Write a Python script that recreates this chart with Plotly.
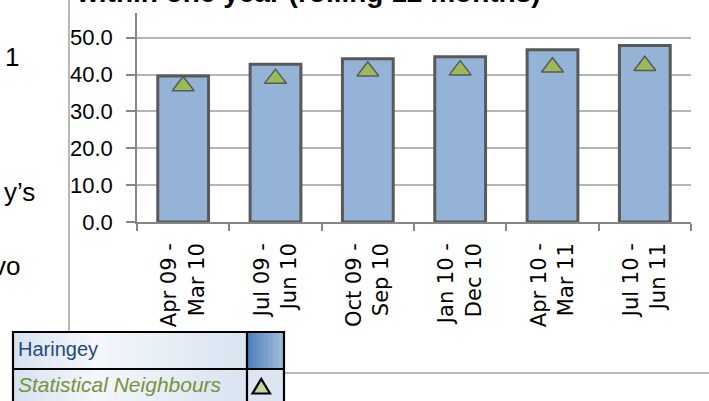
import plotly.graph_objects as go

# ---- data ----
periods = ["Apr 09 -<br>Mar 10", "Jul 09 -<br>Jun 10", "Oct 09 -<br>Sep 10",
           "Jan 10 -<br>Dec 10", "Apr 10 -<br>Mar 11", "Jul 10 -<br>Jun 11"]
haringey = [39.6, 42.8, 44.3, 44.8, 46.7, 47.9]
stat_neighbours = [36.9, 38.9, 40.9, 41.2, 42.0, 42.4]
y_ticks = [0, 10, 20, 30, 40, 50]
y_tick_labels = ["0.0", "10.0", "20.0", "30.0", "40.0", "50.0"]

W, H = 709, 401
L, R, T, B = 137, 18, 13, 179
PW = W - L - R
PH = H - T - B


def px(xp):
    return (xp - L) / PW


def py(yp):
    return 1 - (yp - T) / PH


fig = go.Figure()
fig.add_trace(go.Bar(
    x=periods, y=haringey, name="Haringey", width=0.55,
    marker=dict(color="#95B3D7", line=dict(color="#595959", width=3)),
))
fig.add_trace(go.Scatter(
    x=periods, y=stat_neighbours, name="Statistical Neighbours", mode="markers",
    marker=dict(symbol="triangle-up", size=19, color="#9BBB59",
                line=dict(color="#595959", width=1.5)),
))

shapes = []
# document lines
shapes.append(dict(type="line", xref="paper", yref="paper", x0=px(69), x1=px(69),
                   y0=py(-2), y1=py(335), line=dict(color="#A0A0A0", width=1.5)))
shapes.append(dict(type="line", xref="paper", yref="paper", x0=px(284), x1=px(712),
                   y0=py(373), y1=py(373), line=dict(color="#A0A0A0", width=1.5)))


def hexmix(c1, c2, t):
    a = [int(c1[i:i + 2], 16) for i in (1, 3, 5)]
    b = [int(c2[i:i + 2], 16) for i in (1, 3, 5)]
    return "#%02x%02x%02x" % tuple(round(a[k] + (b[k] - a[k]) * t) for k in range(3))


def gradient(x0, x1, y0, y1, stops, n=30):
    step = (x1 - x0) / n
    for i in range(n):
        t = (i + 0.5) / n
        col = stops[-1][1]
        for j in range(len(stops) - 1):
            if stops[j][0] <= t <= stops[j + 1][0]:
                tt = (t - stops[j][0]) / (stops[j + 1][0] - stops[j][0])
                col = hexmix(stops[j][1], stops[j + 1][1], tt)
                break
        shapes.append(dict(type="rect", xref="paper", yref="paper",
                           x0=px(x0 + i * step), x1=px(x0 + (i + 1) * step + 0.6),
                           y0=py(y1), y1=py(y0), fillcolor=col, line=dict(width=0)))


cell_stops = [(0, "#D6E2F0"), (0.35, "#F4F7FB"), (1, "#D8E3F0")]
gradient(13, 247, 332, 369, cell_stops)
gradient(13, 247, 369, 405, cell_stops)
gradient(247, 284, 332, 369, [(0, "#4A7DBB"), (1, "#A4BEDD")], n=15)
shapes.append(dict(type="rect", xref="paper", yref="paper", x0=px(247), x1=px(284),
                   y0=py(405), y1=py(369), fillcolor="#DCE6F2", line=dict(width=0)))
# table borders
bl = dict(color="#000000", width=2.2)
shapes.append(dict(type="rect", xref="paper", yref="paper", x0=px(13), x1=px(284),
                   y0=py(406), y1=py(332), line=bl))
shapes.append(dict(type="line", xref="paper", yref="paper", x0=px(13), x1=px(284),
                   y0=py(369), y1=py(369), line=bl))
shapes.append(dict(type="line", xref="paper", yref="paper", x0=px(247), x1=px(247),
                   y0=py(332), y1=py(406), line=bl))
# legend triangle swatch
tri = "M %f %f L %f %f L %f %f Z" % (px(252.5), py(393.5), px(270), py(393.5), px(261.2), py(379))
shapes.append(dict(type="path", xref="paper", yref="paper", path=tri,
                   fillcolor="#C3D69B", line=dict(color="#000000", width=2.2)))

annotations = [
    dict(text="<b>within one year (rolling 12 months)</b>", xref="paper", yref="paper",
         x=px(74), y=py(10), xanchor="left", yanchor="bottom", showarrow=False,
         font=dict(family="Liberation Sans", size=28, color="#000000")),
    dict(text="1", xref="paper", yref="paper", x=px(21), y=py(74), xanchor="right",
         yanchor="bottom", showarrow=False,
         font=dict(family="Liberation Sans", size=26, color="#000000")),
    dict(text="y\u2019s", xref="paper", yref="paper", x=px(37), y=py(209), xanchor="right",
         yanchor="bottom", showarrow=False,
         font=dict(family="Liberation Sans", size=26, color="#000000")),
    dict(text="vo", xref="paper", yref="paper", x=px(22), y=py(283), xanchor="right",
         yanchor="bottom", showarrow=False,
         font=dict(family="Liberation Sans", size=26, color="#000000")),
    dict(text="Haringey", xref="paper", yref="paper", x=px(16), y=py(362), xanchor="left",
         yanchor="bottom", showarrow=False,
         font=dict(family="Liberation Sans", size=20, color="#1F497D")),
    dict(text="<i>Statistical Neighbours</i>", xref="paper", yref="paper", x=px(16), y=py(398),
         xanchor="left", yanchor="bottom", showarrow=False,
         font=dict(family="Liberation Sans", size=21, color="#77933C")),
]

fig.update_layout(
    width=W, height=H, margin=dict(l=L, r=R, t=T, b=B, pad=0),
    paper_bgcolor="white", plot_bgcolor="white", showlegend=False,
    shapes=shapes, annotations=annotations,
    xaxis=dict(type="category", tickangle=-90, showline=True, linecolor="#868686",
               linewidth=1.5, ticks="outside", tickson="boundaries", ticklen=7,
               tickcolor="#868686", tickwidth=1.5, showgrid=False,
               ticklabelstandoff=11,
               tickfont=dict(family="DejaVu Sans", size=21, color="#000000")),
    yaxis=dict(range=[0, 56.7], tickvals=y_ticks, ticktext=y_tick_labels,
               showline=True, linecolor="#868686", linewidth=1.5, ticks="outside",
               ticklen=9, tickcolor="#868686", tickwidth=1.5, showgrid=True,
               gridcolor="#B5B5B5", gridwidth=1.5, zeroline=False,
               ticklabelstandoff=9,
               tickfont=dict(family="Liberation Sans", size=22, color="#000000")),
)

fig.write_html("out.html", config={"displayModeBar": False},
               post_script="document.body.style.margin='0';")
